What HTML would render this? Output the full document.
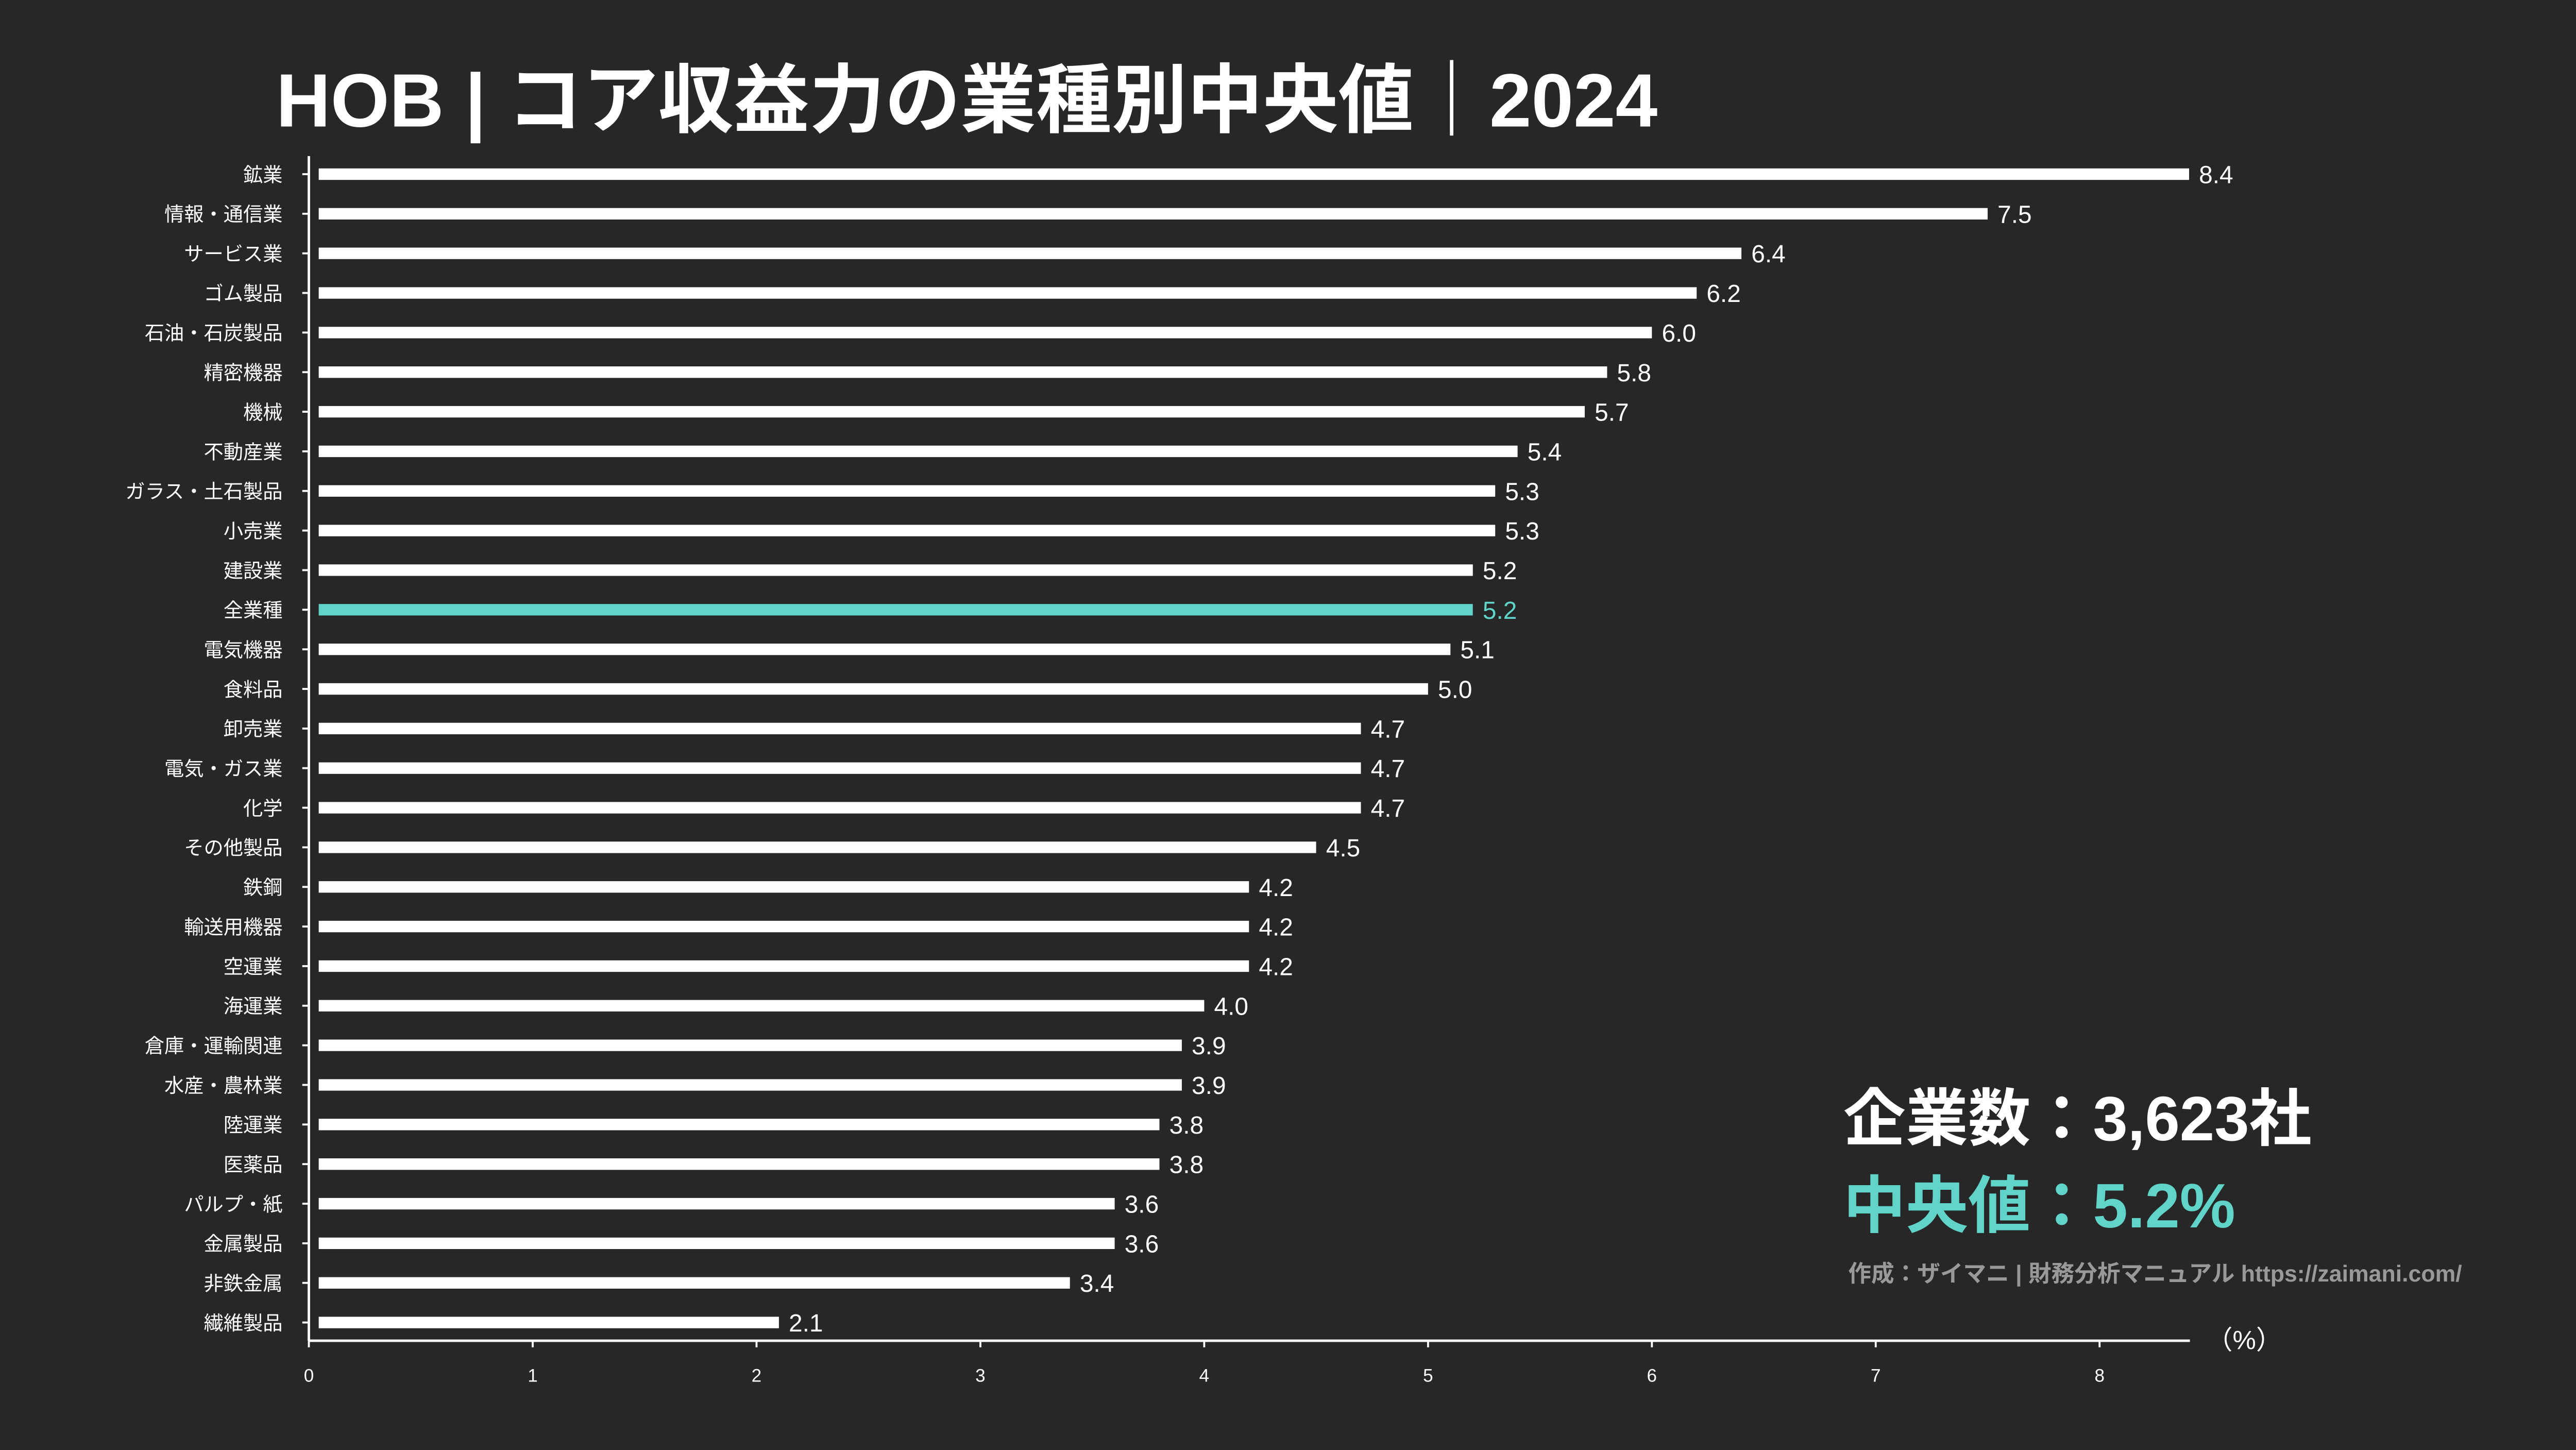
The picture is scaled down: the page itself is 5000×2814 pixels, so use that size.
<!DOCTYPE html>
<html><head><meta charset="utf-8"><style>
html,body{margin:0;padding:0;background:#272727;}
svg{display:block;}
text{font-family:"Liberation Sans","Noto Sans CJK JP",sans-serif;}
</style></head><body>
<svg id="chart" width="5000" height="2814" viewBox="0 0 1568 882.5" preserveAspectRatio="none" xmlns="http://www.w3.org/2000/svg">
<rect width="1568" height="882.5" fill="#272727"/>
<text x="168" y="77" font-size="46" font-weight="bold" fill="#ffffff">HOB | コア収益力の業種別中央値｜2024</text>
<g id="bars"></g>
<g id="axes"></g>
<text x="1122" y="694" font-size="38" font-weight="bold" fill="#ffffff">企業数：3,623社</text>
<text x="1122" y="747" font-size="38" font-weight="bold" fill="#60d4c8">中央値：5.2%</text>
<text x="1125" y="780" font-size="14" font-weight="bold" fill="#999999">作成：ザイマニ | 財務分析マニュアル https://zaimani.com/</text>
<text x="1343" y="821" font-size="16" fill="#ffffff">（%）</text>
</svg>
<script>
const categories=["鉱業","情報・通信業","サービス業","ゴム製品","石油・石炭製品","精密機器","機械","不動産業","ガラス・土石製品","小売業","建設業","全業種","電気機器","食料品","卸売業","電気・ガス業","化学","その他製品","鉄鋼","輸送用機器","空運業","海運業","倉庫・運輸関連","水産・農林業","陸運業","医薬品","パルプ・紙","金属製品","非鉄金属","繊維製品"];
const values=[8.4,7.5,6.4,6.2,6.0,5.8,5.7,5.4,5.3,5.3,5.2,5.2,5.1,5.0,4.7,4.7,4.7,4.5,4.2,4.2,4.2,4.0,3.9,3.9,3.8,3.8,3.6,3.6,3.4,2.1];
const ticks=[0,1,2,3,4,5,6,7,8];
const highlight="全業種";
const NS="http://www.w3.org/2000/svg";
const x0=188,xUnit=136.25,y0=106,step=24.1,bh=7;
const xs=v=>x0+v*xUnit;
const ys=i=>y0+i*step;
const bars=document.getElementById('bars'),axes=document.getElementById('axes');
function mk(tag,attrs,parent){const e=document.createElementNS(NS,tag);for(const k in attrs)e.setAttribute(k,attrs[k]);parent.appendChild(e);return e;}
categories.forEach((c,i)=>{
  const col=c===highlight?"#60d4c8":"#ffffff";
  const r=mk('rect',{x:xs(0)+6,y:ys(i)-bh/2,width:xs(values[i])-xs(0)-6,height:bh,fill:col},bars);
  
  
  const t=mk('text',{x:xs(values[i])+6,y:ys(i)+5.5,'font-size':15,fill:col},bars);
  t.textContent=values[i].toFixed(1);
  
  
  const l=mk('text',{x:172,y:ys(i)+4.5,'font-size':12,fill:'#ffffff','text-anchor':'end'},axes);
  l.textContent=c;
  
  
  const tk=mk('line',{x1:x0-4,x2:x0,y1:ys(i),y2:ys(i),stroke:'#fff','stroke-width':1.2},axes);
  
  
});
const ya=mk('line',{x1:x0,x2:x0,y1:95,y2:816,stroke:'#fff','stroke-width':1.5},axes);


const xa=mk('line',{x1:x0,x2:1333,y1:816,y2:816,stroke:'#fff','stroke-width':1.5},axes);


ticks.forEach(v=>{
  const tl=mk('line',{x1:xs(v),x2:xs(v),y1:816,y2:820,stroke:'#fff','stroke-width':1.2},axes);
  
  
  const tt=mk('text',{x:xs(v),y:841,'font-size':11,fill:'#fff','text-anchor':'middle'},axes);
  tt.textContent=v;
  
  
});
</script>
</body></html>
